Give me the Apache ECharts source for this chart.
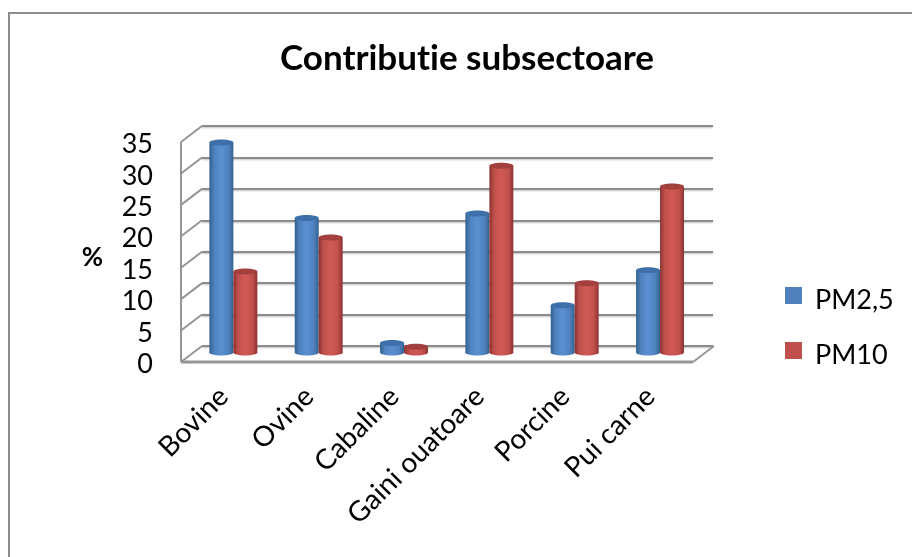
<!DOCTYPE html>
<html><head><meta charset="utf-8">
<style>html,body{margin:0;padding:0;background:#fff}#c{width:912px;height:557px}</style>
<script src="https://cdn.jsdelivr.net/npm/echarts@6/dist/echarts.min.js"></script>
</head><body><div id="c"></div>
<script>
const titleText = 'Contributie subsectoare';
const categories = ['Bovine','Ovine','Cabaline','Gaini ouatoare','Porcine','Pui carne'];
const seriesNames = ['PM2,5','PM10'];
const pm25 = [33.4,21.4,1.5,22.1,7.5,13.1];
const pm10 = [12.9,18.3,0.9,29.7,11,26.4];
const yTicks = [0,5,10,15,20,25,30,35];
const depthX = 21, depthY = -16;
const font = 'Lato, Carlito, sans-serif';
const palette = [
  {edge:'#33608f', mid:'#5a90d2', base:'#4f81bd', cap:'#3d6fa8'},
  {edge:'#8a3331', mid:'#d25a56', base:'#c0504d', cap:'#a33f3c'}
];
// plain glyphs: no "ti" ligature in canvas text
const origGetContext = HTMLCanvasElement.prototype.getContext;
HTMLCanvasElement.prototype.getContext = function(){
  const ctx = origGetContext.apply(this, arguments);
  if (ctx && 'textRendering' in ctx) ctx.textRendering = 'optimizeSpeed';
  return ctx;
};
function barRender(idx){
  return function(params, api){
    const cat = api.value(0), val = api.value(1);
    const top = api.coord([cat, val]), bot = api.coord([cat, 0]);
    const w = api.size([1,0])[0]*0.281;
    const cx = top[0] + (idx===0 ? -w/2 : w/2);
    const x = cx - w/2, ry = 3;
    const p = palette[idx];
    const grad = new echarts.graphic.LinearGradient(0,0,1,0,[
      {offset:0,color:p.edge},{offset:0.2,color:p.base},{offset:0.5,color:p.mid},{offset:0.8,color:p.base},{offset:1,color:p.edge}]);
    return {type:'group',children:[
      {type:'ellipse',shape:{cx:cx,cy:bot[1],rx:w/2,ry:ry},style:{fill:grad}},
      {type:'rect',shape:{x:x,y:top[1],width:w,height:bot[1]-top[1]},style:{fill:grad}},
      {type:'ellipse',shape:{cx:cx,cy:top[1],rx:w/2,ry:ry},style:{fill:p.cap}}
    ]};
  };
}
const wallStroke = {stroke:'#959595',lineWidth:2};
const option = {
  animation:false,
  backgroundColor:'#fff',
  title:{text:titleText,left:462,top:36,textAlign:'center',
    textStyle:{fontFamily:font,fontSize:35,fontWeight:'bold',color:'#000'}},
  legend:{data:seriesNames,orient:'vertical',left:780,top:282,itemWidth:17,itemHeight:17,itemGap:28,icon:'rect',
    formatter:'{a|{name}}',
    textStyle:{rich:{a:{fontFamily:font,fontSize:27,color:'#000',padding:[10,0,0,8]}}},selectedMode:false},
  grid:[
    {left:181,top:142,width:512,height:220},
    {left:202,top:126,width:511,height:220},
    {left:190.7,top:132.5,width:512,height:220}
  ],
  xAxis:[
    {gridIndex:0,type:'category',data:categories,axisLine:{show:false},axisTick:{show:false},
     axisLabel:{rotate:45,margin:30,interval:0,fontFamily:font,fontSize:28,color:'#000'}},
    {gridIndex:1,type:'category',data:categories,show:false},
    {gridIndex:2,type:'category',data:categories,show:false}
  ],
  yAxis:[
    {gridIndex:0,type:'value',min:0,max:35,interval:5,name:'{p|%}',nameLocation:'middle',nameRotate:0,nameGap:78,
     nameTextStyle:{rich:{p:{fontFamily:font,fontSize:26,fontWeight:'bold',color:'#000',padding:[12,0,0,0]}}},
     axisLine:{show:false},axisTick:{show:false},splitLine:{show:false},
     axisLabel:{margin:28,formatter:'{n|{value}}',rich:{n:{fontFamily:font,fontSize:27,color:'#000',padding:[5,0,0,0]}}}},
    {gridIndex:1,type:'value',min:0,max:35,interval:5,axisLine:{show:false},axisTick:{show:false},axisLabel:{show:false},
     splitLine:{show:true,lineStyle:{color:'#8c8c8c',width:2,shadowColor:'rgba(0,0,0,0.25)',shadowBlur:2,shadowOffsetY:1}}},
    {gridIndex:2,type:'value',min:0,max:35,interval:5,show:false,splitLine:{show:false}}
  ],
  series:[
    {type:'custom',xAxisIndex:0,yAxisIndex:0,silent:true,z:1,data:yTicks.map(v=>[0,v]),
     renderItem:function(params,api){
       const y = api.coord([0,api.value(1)])[1], x = params.coordSys.x;
       return {type:'line',shape:{x1:x,y1:y,x2:x+depthX,y2:y+depthY},style:wallStroke};
     }},
    {type:'custom',xAxisIndex:0,yAxisIndex:0,silent:true,z:1,data:[[0,0]],
     renderItem:function(params,api){
       const cs = params.coordSys, b = cs.y+cs.height, r = cs.x+cs.width;
       return {type:'group',children:[
         {type:'line',shape:{x1:cs.x,y1:cs.y,x2:cs.x,y2:b},style:wallStroke},
         {type:'line',shape:{x1:cs.x,y1:b,x2:r,y2:b},style:{stroke:'#959595',lineWidth:3}},
         {type:'line',shape:{x1:r,y1:b,x2:r+depthX,y2:b+depthY},style:wallStroke}
       ]};
     }},
    {name:seriesNames[0],type:'custom',xAxisIndex:2,yAxisIndex:2,z:3,itemStyle:{color:'#4f81bd'},
     data:pm25.map((v,i)=>[i,v]),encode:{x:0,y:1},renderItem:barRender(0)},
    {name:seriesNames[1],type:'custom',xAxisIndex:2,yAxisIndex:2,z:3,itemStyle:{color:'#c0504d'},
     data:pm10.map((v,i)=>[i,v]),encode:{x:0,y:1},renderItem:barRender(1)}
  ],
  graphic:[
    {type:'polyline',silent:true,shape:{points:[[9,557],[9,13],[912,13]]},style:{stroke:'#8c8c8c',fill:null,lineWidth:2}}
  ]
};
echarts.init(document.getElementById('c'),null,{renderer:'canvas'}).setOption(option);
</script></body></html>
